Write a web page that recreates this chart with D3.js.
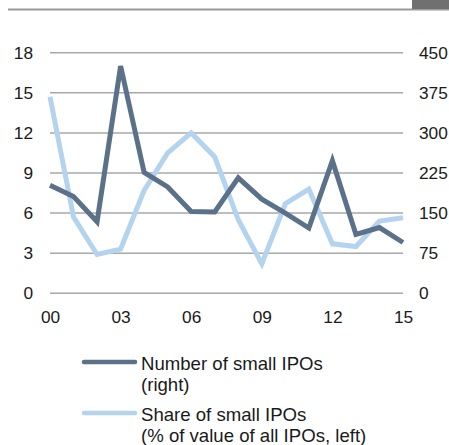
<!DOCTYPE html>
<html><head><meta charset="utf-8">
<script src="https://cdn.jsdelivr.net/npm/d3@7"></script>
<style>body{margin:0;background:#fff}svg{display:block}text{font-family:"Liberation Sans",Arial,sans-serif;fill:#1a1a1a}</style>
</head><body>
<svg id="c" width="449" height="445"></svg>
<script>
const years = ["00","01","02","03","04","05","06","07","08","09","10","11","12","13","14","15"];
const numberSmallIPOs = [202,181,134,425,226,199,153,152,216,176,150,122,248,110,123,95];
const shareSmallIPOs = [14.7,5.7,2.9,3.3,7.7,10.5,12.0,10.2,5.5,2.2,6.7,7.8,3.7,3.5,5.4,5.65];
const leftTicks = [0,3,6,9,12,15,18];
const rightTicks = [0,75,150,225,300,375,450];
const xTickLabels = ["00","03","06","09","12","15"];
const legendLabels = [["Number of small IPOs","(right)"],["Share of small IPOs","(% of value of all IPOs, left)"]];

const svg = d3.select("#c");
const x = d3.scalePoint().domain(years).range([50,403]);
const yL = d3.scaleLinear().domain([0,18]).range([293.3,52.7]);
const yR = d3.scaleLinear().domain([0,450]).range([293.3,52.7]);
const dark = "#5a7189", light = "#b4d3ef";

// top rule and box
svg.append("rect").attr("x",8).attr("y",8.5).attr("width",441).attr("height",2).attr("fill","#9a9a9a");
svg.append("rect").attr("x",412).attr("y",0).attr("width",37).attr("height",9).attr("fill","#707070");

// gridlines
svg.append("g").selectAll("line").data(leftTicks).join("line")
  .attr("x1",50).attr("x2",403).attr("y1",d=>yL(d)).attr("y2",d=>yL(d))
  .attr("stroke","#a8a8a8").attr("stroke-width",1.5);

const fontAttrs = sel => sel.attr("font-size",17.3).attr("font-family","'Liberation Sans',Arial,sans-serif").attr("fill","#1a1a1a");

// left axis
const gL = svg.append("g").attr("transform","translate(50,0)")
  .call(d3.axisLeft(yL).tickValues(leftTicks).tickSize(0).tickPadding(17));
gL.select(".domain").remove();
fontAttrs(gL.selectAll("text"));

// right axis
const gR = svg.append("g").attr("transform","translate(403,0)")
  .call(d3.axisRight(yR).tickValues(rightTicks).tickSize(0).tickPadding(16));
gR.select(".domain").remove();
fontAttrs(gR.selectAll("text"));

// bottom axis
const gB = svg.append("g").attr("transform","translate(0,293.3)")
  .call(d3.axisBottom(x).tickValues(xTickLabels).tickSize(0).tickPadding(17));
gB.select(".domain").remove();
fontAttrs(gB.selectAll("text"));

// lines
svg.append("path").datum(shareSmallIPOs)
  .attr("d", d3.line().x((d,i)=>x(years[i])).y(d=>yL(d)))
  .attr("fill","none").attr("stroke",light).attr("stroke-width",5).attr("stroke-linejoin","miter");
svg.append("path").datum(numberSmallIPOs)
  .attr("d", d3.line().x((d,i)=>x(years[i])).y(d=>yR(d)))
  .attr("fill","none").attr("stroke",dark).attr("stroke-width",5).attr("stroke-linejoin","miter");

// legend
const colors = [dark, light];
const lg = svg.append("g");
legendLabels.forEach((lab,i)=>{
  const yy = 362 + i*51;
  lg.append("line").attr("x1",84).attr("x2",135).attr("y1",yy).attr("y2",yy)
    .attr("stroke",colors[i]).attr("stroke-width",4.5).attr("stroke-linecap","round");
  lab.forEach((t,j)=>{
    lg.append("text").attr("x",141).attr("y",yy+7.5+j*21.7).attr("font-size",18.6).text(t);
  });
});
</script>
</body></html>
